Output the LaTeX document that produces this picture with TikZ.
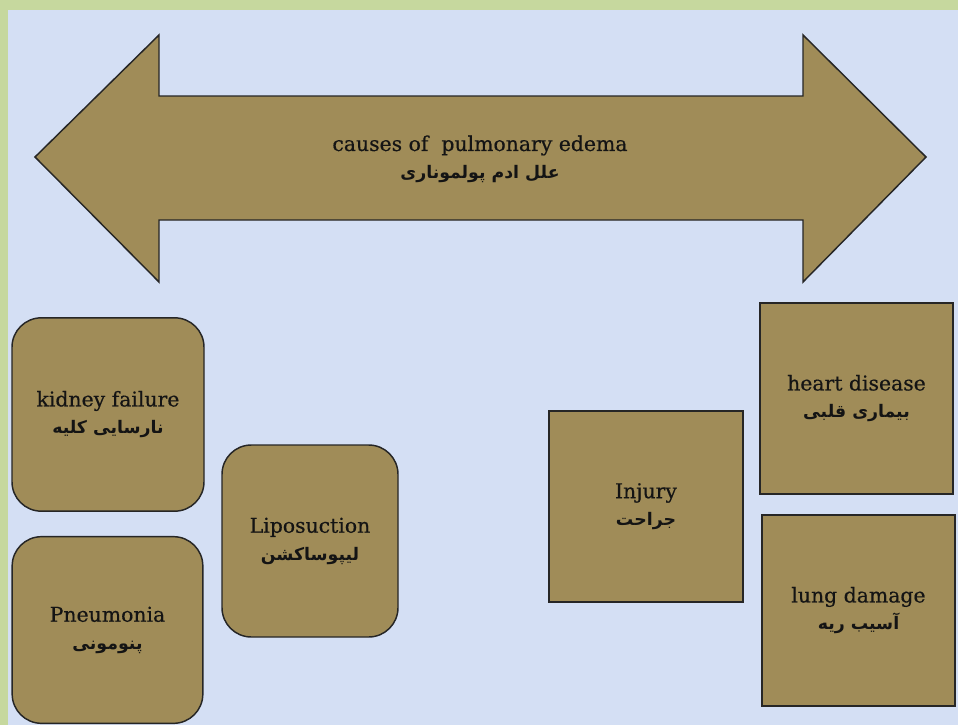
\documentclass[tikz,border=0pt]{standalone}
\usepackage{fontspec}
\setmainfont{DejaVu Serif}[FakeBold=0.5]
\newfontfamily\arabicfont[Script=Arabic]{DejaVu Sans}
\TeXXeTstate=1

\definecolor{bgblue}{HTML}{D4DFF4}
\definecolor{framegreen}{HTML}{C6D89E}
\definecolor{khaki}{HTML}{A08C58}

% Persian caption line, set right to left
\newcommand{\fa}[1]{{\arabicfont\bfseries\fontsize{13}{20}\selectfont\beginR #1\endR}}

\tikzset{
  labeltext/.style={align=center, font=\fontsize{15.3}{20.5}\selectfont, text=black!92},
  causebox/.style={labeltext, draw=black!85, line width=1.1pt, fill=khaki, inner sep=0pt},
  roundcause/.style={causebox, rounded corners=22pt},
  bigarrow/.style={draw=black!85, line width=1.1pt, fill=khaki, line join=miter},
}

\begin{document}
\begin{tikzpicture}[x=0.75pt,y=-0.75pt]
  % page background and frame strips
  \useasboundingbox (0,0) rectangle (958,725);
  \fill[bgblue] (0,0) rectangle (958,725);
  \fill[framegreen] (0,0) rectangle (958,10);
  \fill[framegreen] (0,0) rectangle (8,725);

  % double-headed title arrow
  \draw[bigarrow] (35,157) -- (159,35) -- (159,96) -- (803,96) -- (803,35)
    -- (926,157) -- (803,282) -- (803,220) -- (159,220) -- (159,282) -- cycle;
  \node[labeltext] (title) at (480,159)
    {causes of\ \ pulmonary edema\\ \fa{علل ادم پولموناری}};

  % rounded cause boxes on the left
  \node[roundcause, minimum width=144pt, minimum height=145pt] (kidney) at (108,414.5)
    {kidney failure\\ \fa{نارسایی کلیه}};
  \node[roundcause, minimum width=143pt, minimum height=140pt] (pneumonia) at (107.5,630)
    {Pneumonia\\ \fa{پنومونی}};
  \node[roundcause, minimum width=132pt, minimum height=144pt] (lipo) at (310,541)
    {Liposuction\\ \fa{لیپوساکشن}};

  % square cause boxes on the right
  \node[causebox, minimum width=145.5pt, minimum height=143pt] (injury) at (646,506.5)
    {Injury\\ \fa{جراحت}};
  \node[causebox, minimum width=145pt, minimum height=143pt] (heart) at (856.5,398.5)
    {heart disease\\ \fa{بیماری قلبی}};
  \node[causebox, minimum width=145pt, minimum height=143pt] (lung) at (858.5,610.5)
    {lung damage\\ \fa{آسیب ریه}};
\end{tikzpicture}
\end{document}
